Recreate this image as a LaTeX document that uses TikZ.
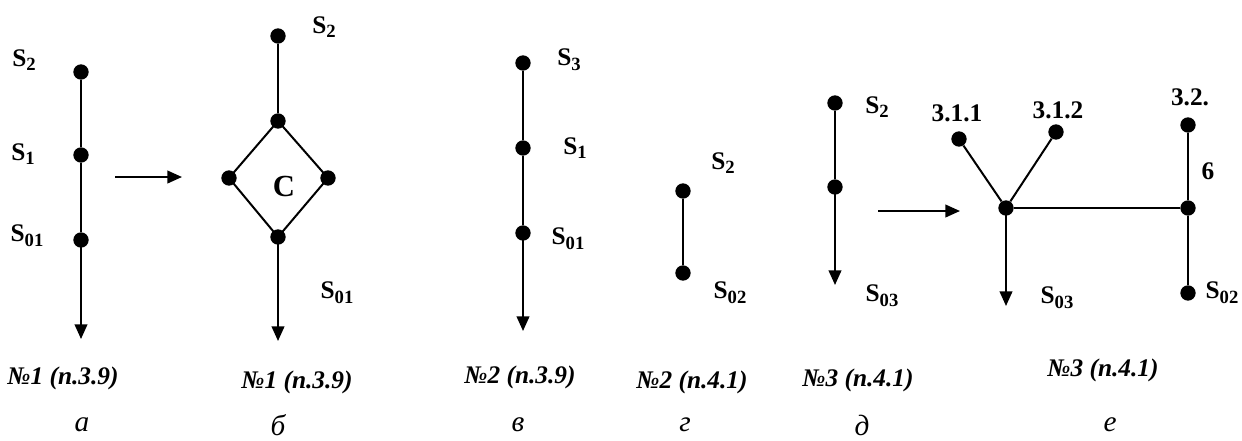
\documentclass[tikz,border=0pt]{standalone}
\usepackage{fontspec}
\setmainfont{Liberation Serif}
\usetikzlibrary{arrows.meta}
\newcommand{\mysub}[1]{\raisebox{-0.4ex}{\fontsize{14}{16}\selectfont\bfseries #1}}
\begin{document}
\begin{tikzpicture}[x=0.75pt,y=-0.75pt,
  dotnode/.style={circle,fill=black,inner sep=0pt,minimum size=11.5pt},
  edgeline/.style={line width=1.5pt},
  arrline/.style={line width=1.5pt,-{Triangle[width=9.5pt,length=11pt]}},
  slabel/.style={font=\fontsize{19}{22}\selectfont\bfseries,inner sep=0pt},
  captext/.style={font=\fontsize{19}{22}\selectfont\bfseries\itshape,inner sep=0pt},
  lettext/.style={font=\fontsize{22}{25}\selectfont\itshape,inner sep=0pt}]
\useasboundingbox[fill=white] (0,0) rectangle (1242,440);
% panel a
\node[dotnode] (a1) at (81,72) {};
\node[dotnode] (a2) at (81,155) {};
\node[dotnode] (a3) at (81,240) {};
\coordinate (a4) at (81,339);
\draw[edgeline] (a1) -- (a2) -- (a3);
\draw[arrline] (a3.center) -- (a4);
\node[slabel] (la1) at (24,60) {S\mysub{2}};
\node[slabel] (la2) at (23,154) {S\mysub{1}};
\node[slabel] (la3) at (27,236) {S\mysub{01}};
\coordinate (ar1s) at (115,177);
\coordinate (ar1e) at (182,177);
\draw[arrline] (ar1s) -- (ar1e);
% panel b
\node[dotnode] (b1) at (278,36) {};
\node[dotnode] (b2) at (278,121) {};
\node[dotnode] (b3) at (229,178) {};
\node[dotnode] (b4) at (328,178) {};
\node[dotnode] (b5) at (278,237) {};
\coordinate (b6) at (278,341);
\draw[edgeline] (b1) -- (b2);
\draw[edgeline] (b2.center) -- (b3.center) -- (b5.center) -- (b4.center) -- cycle;
\draw[arrline] (b5.center) -- (b6);
\node[font=\fontsize{23}{26}\selectfont\bfseries,inner sep=0pt] (bc) at (284,186) {C};
\node[slabel] (lb1) at (324,27) {S\mysub{2}};
\node[slabel] (lb2) at (337,293) {S\mysub{01}};
% panel v
\node[dotnode] (v1) at (523,63) {};
\node[dotnode] (v2) at (523,148) {};
\node[dotnode] (v3) at (523,233) {};
\coordinate (v4) at (523,331);
\draw[edgeline] (v1) -- (v2) -- (v3);
\draw[arrline] (v3.center) -- (v4);
\node[slabel] (lv1) at (569,60) {S\mysub{3}};
\node[slabel] (lv2) at (575,148) {S\mysub{1}};
\node[slabel] (lv3) at (568,239) {S\mysub{01}};
% panel g
\node[dotnode] (g1) at (683,191) {};
\node[dotnode] (g2) at (683,273) {};
\draw[edgeline] (g1) -- (g2);
\node[slabel] (lg1) at (723,163) {S\mysub{2}};
\node[slabel] (lg2) at (730,293) {S\mysub{02}};
% panel d
\node[dotnode] (d1) at (835,103) {};
\node[dotnode] (d2) at (835,187) {};
\coordinate (d3) at (835,285);
\draw[edgeline] (d1) -- (d2);
\draw[arrline] (d2.center) -- (d3);
\node[slabel] (ld1) at (877,107) {S\mysub{2}};
\node[slabel] (ld2) at (882,296) {S\mysub{03}};
\coordinate (ar2s) at (878,211);
\coordinate (ar2e) at (960,211);
\draw[arrline] (ar2s) -- (ar2e);
% panel e
\node[dotnode] (e0) at (1006,208) {};
\node[dotnode] (e1) at (959,139) {};
\node[dotnode] (e2) at (1056,132) {};
\node[dotnode] (e3) at (1188,208) {};
\node[dotnode] (e4) at (1188,125) {};
\node[dotnode] (e5) at (1188,293) {};
\coordinate (e6) at (1006,306);
\draw[edgeline] (e0) -- (e1);
\draw[edgeline] (e0) -- (e2);
\draw[edgeline] (e0) -- (e3);
\draw[edgeline] (e4) -- (e3) -- (e5);
\draw[arrline] (e0.center) -- (e6);
\node[slabel] (le1) at (957,113) {3.1.1};
\node[slabel] (le2) at (1058,110) {3.1.2};
\node[slabel] (le3) at (1190,97) {3.2.};
\node[slabel] (le4) at (1208,171) {6};
\node[slabel] (le5) at (1057,298) {S\mysub{03}};
\node[slabel] (le6) at (1222,293) {S\mysub{02}};
% captions
\node[captext] (c1) at (63,378) {№1 (п.3.9)};
\node[captext] (c2) at (297,382) {№1 (п.3.9)};
\node[captext] (c3) at (520,377) {№2 (п.3.9)};
\node[captext] (c4) at (692,382) {№2 (п.4.1)};
\node[captext] (c5) at (858,380) {№3 (п.4.1)};
\node[captext] (c6) at (1103,370) {№3 (п.4.1)};
\node[lettext] (t1) at (82,425) {а};
\node[lettext] (t2) at (278,425) {б};
\node[lettext] (t3) at (518,425) {в};
\node[lettext] (t4) at (685,425) {г};
\node[lettext] (t5) at (862,425) {д};
\node[lettext] (t6) at (1110,425) {е};
\end{tikzpicture}
\end{document}
